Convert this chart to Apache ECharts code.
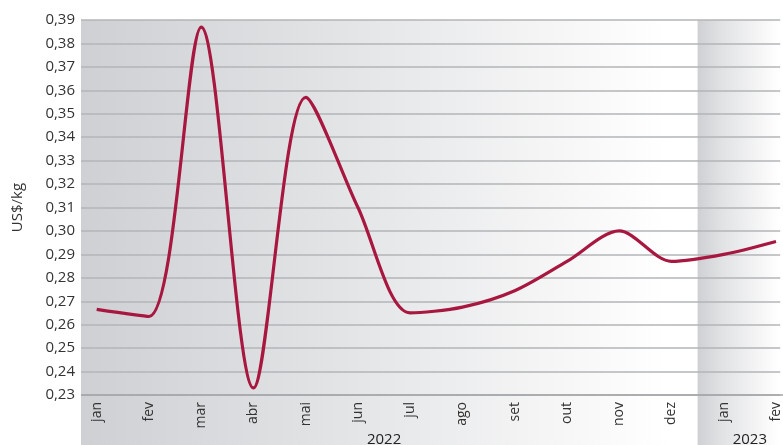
<!DOCTYPE html>
<html>
<head>
<meta charset="utf-8">
<script src="https://cdn.jsdelivr.net/npm/echarts@6/dist/echarts.min.js"></script>
<style>
  html, body { margin: 0; padding: 0; background: #fff; }
  #chart { width: 783px; height: 445px; }
</style>
</head>
<body>
<div id="chart"></div>
<script>
// monthly price, US$/kg
const months = ['jan', 'fev', 'mar', 'abr', 'mai', 'jun', 'jul', 'ago', 'set', 'out', 'nov', 'dez', 'jan', 'fev'];
const prices = [0.2665, 0.2635, 0.3870, 0.2330, 0.3570, 0.3100, 0.2650, 0.2675, 0.2745, 0.2870, 0.3000, 0.2870, 0.2900, 0.2955];
const years = [
  { label: '2022', from: 0, to: 11 },
  { label: '2023', from: 12, to: 13 }
];
const yTicks = [0.23, 0.39, 0.01]; // min, max, step

const chart = echarts.init(document.getElementById('chart'));
const fontFamily = '"Open Sans", "Noto Sans", sans-serif';

const option = {
  animation: false,
  grid: { left: 81, right: 0, top: 20, bottom: 50 },
  xAxis: {
    type: 'value',
    min: -0.3,
    max: 13.08,
    axisLine: { show: false },
    axisTick: { show: false },
    splitLine: { show: false },
    axisLabel: {
      customValues: months.map((m, i) => i),
      formatter: (v) => months[Math.round(v)],
      rotate: 90,
      fontSize: 14,
      color: '#333',
      fontFamily: fontFamily,
      margin: 7
    }
  },
  yAxis: {
    type: 'value',
    min: yTicks[0],
    max: yTicks[1],
    interval: yTicks[2],
    name: 'US$/kg',
    nameLocation: 'middle',
    nameRotate: 90,
    nameGap: 56,
    nameTextStyle: { fontSize: 15, color: '#333', fontFamily: fontFamily },
    axisLine: { show: false },
    axisTick: { show: false },
    axisLabel: {
      formatter: (v) => v.toFixed(2).replace('.', ','),
      fontSize: 15,
      color: '#333',
      fontFamily: fontFamily,
      margin: 6
    },
    splitLine: { lineStyle: { color: '#b3b4b7', width: 1.5 } }
  },
  series: [{
    type: 'line',
    data: prices.map((v, i) => [i, v]),
    smooth: 0.3,
    symbol: 'none',
    lineStyle: { color: '#a8173f', width: 3.2 },
    z: 5
  }]
};
chart.setOption(option);

// background bands per year + year labels under the month labels
const plotTop = chart.convertToPixel({ gridIndex: 0 }, [0, yTicks[1]])[1];
const graphics = [];
years.forEach((yr, k) => {
  const x0 = k === 0 ? 81 : chart.convertToPixel({ gridIndex: 0 }, [yr.from - 0.5, yTicks[0]])[0];
  const x1 = k === years.length - 1 ? 783 : chart.convertToPixel({ gridIndex: 0 }, [yr.to + 0.5, yTicks[0]])[0];
  graphics.push({
    type: 'rect',
    z: -10,
    shape: { x: x0, y: plotTop, width: x1 - x0, height: 445 - plotTop },
    style: {
      fill: new echarts.graphic.LinearGradient(0, 0, 1, 0, [
        { offset: 0, color: '#cfd0d3' },
        { offset: k === 0 ? 0.4 : 0.3, color: '#e2e3e5' },
        { offset: 0.95, color: '#ffffff' },
        { offset: 1, color: '#ffffff' }
      ])
    }
  });
  const cx = chart.convertToPixel({ gridIndex: 0 }, [(yr.from + yr.to) / 2, yTicks[0]])[0];
  graphics.push({
    type: 'text',
    z: 10,
    style: {
      text: yr.label,
      x: cx,
      y: 440,
      align: 'center',
      verticalAlign: 'middle',
      fontSize: 15,
      fill: '#222',
      fontFamily: fontFamily
    }
  });
});
// darker baseline at the axis bottom
const base = chart.convertToPixel({ gridIndex: 0 }, [0, yTicks[0]])[1];
graphics.push({
  type: 'line',
  z: 4,
  shape: { x1: 81, y1: base, x2: 783, y2: base },
  style: { stroke: '#a3a4a7', lineWidth: 1.5 }
});
chart.setOption({ graphic: graphics });
</script>
</body>
</html>
